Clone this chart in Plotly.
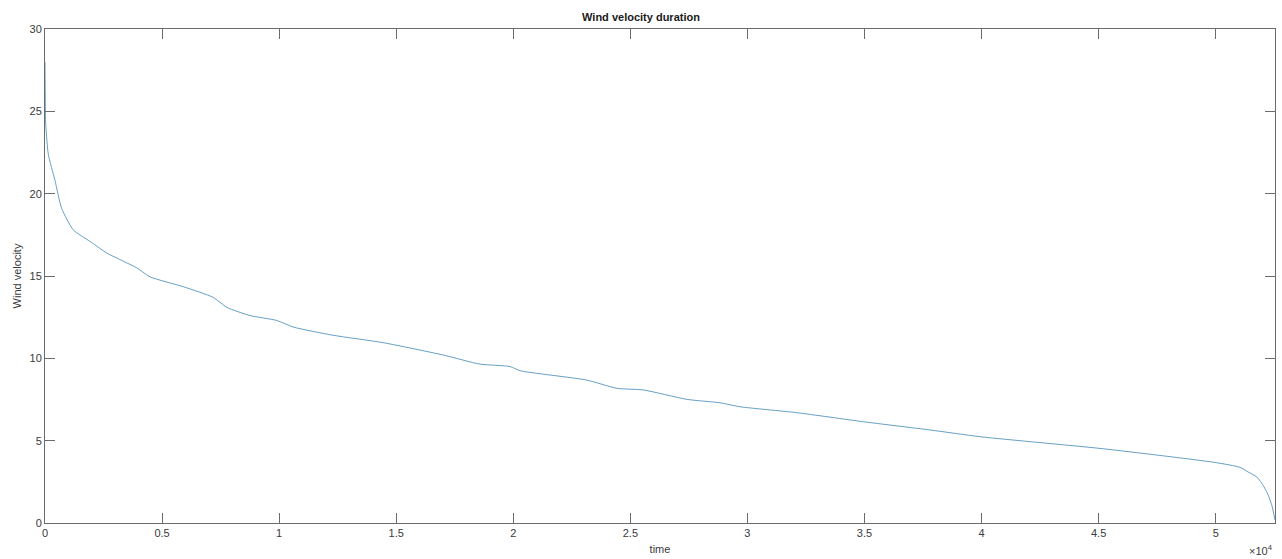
import plotly.graph_objects as go

# Duration curve (sample index vs wind velocity)
time_idx = [0, 13, 20, 141, 427, 713, 1209, 1922, 2635, 3344, 3916, 4484, 5907,
            7188, 7760, 8755, 9896, 10605, 12313, 14448, 17011, 18579, 19860,
            20287, 23136, 24417, 25553, 27407, 28829, 29683, 32105, 34949,
            37797, 39933, 42069, 45059, 48617, 50043, 51038, 51380, 51752,
            51950, 52178, 52392, 52532]
wind_velocity = [28.0, 25.5, 24.5, 22.4, 20.8, 19.1, 17.8, 17.1, 16.4, 15.9,
                 15.5, 14.95, 14.35, 13.7, 13.1, 12.6, 12.3, 11.9, 11.4, 10.95,
                 10.2, 9.65, 9.5, 9.25, 8.68, 8.18, 8.08, 7.51, 7.3, 7.06, 6.70,
                 6.15, 5.65, 5.24, 4.94, 4.53, 3.93, 3.66, 3.38, 3.1, 2.8,
                 2.45, 1.9, 1.1, 0.18]

x_tick_vals = [0, 5000, 10000, 15000, 20000, 25000, 30000, 35000, 40000, 45000, 50000]
x_tick_text = ["0", "0.5", "1", "1.5", "2", "2.5", "3", "3.5", "4", "4.5", "5"]
y_tick_vals = [0, 5, 10, 15, 20, 25, 30]
x_max = 52532

font_family = "Liberation Sans, Arial, sans-serif"
axis_col = "#6b6b6b"
text_col = "#3a3a3a"

fig = go.Figure()
fig.add_trace(go.Scatter(x=time_idx, y=wind_velocity, mode="lines",
                         line=dict(color="#3f86b6", width=0.8, shape="spline",
                                   smoothing=0.6),
                         showlegend=False))

fig.update_layout(
    width=1282, height=559,
    margin=dict(l=45, r=7, t=29, b=36, autoexpand=False),
    paper_bgcolor="white", plot_bgcolor="white",
    font=dict(family=font_family, size=11, color=text_col),
    title=dict(text="<b>Wind velocity duration</b>", x=0.5, xanchor="center",
               y=1 - 17 / 559, yanchor="middle",
               font=dict(size=11, color="#1a1a1a")),
)
fig.update_xaxes(range=[0, x_max], tickvals=x_tick_vals, ticktext=x_tick_text,
                 ticks="inside", ticklen=10, tickcolor=axis_col,
                 showline=True, linecolor=axis_col, linewidth=1, mirror="ticks",
                 showgrid=False, zeroline=False, automargin=False,
                 title=dict(text="time", standoff=7, font=dict(size=11)))
fig.update_yaxes(range=[0, 30], tickvals=y_tick_vals,
                 ticks="inside", ticklen=10, tickcolor=axis_col,
                 showline=True, linecolor=axis_col, linewidth=1, mirror="ticks",
                 showgrid=False, zeroline=False, automargin=False,
                 title=dict(text="Wind velocity", standoff=5, font=dict(size=11)))

fig.add_annotation(text="\u00d710<sup>4</sup>", xref="paper", yref="paper",
                   x=1.0, y=0, xanchor="right", yanchor="top", yshift=-18,
                   showarrow=False, font=dict(size=11, color=text_col))

fig.write_html("out.html")
